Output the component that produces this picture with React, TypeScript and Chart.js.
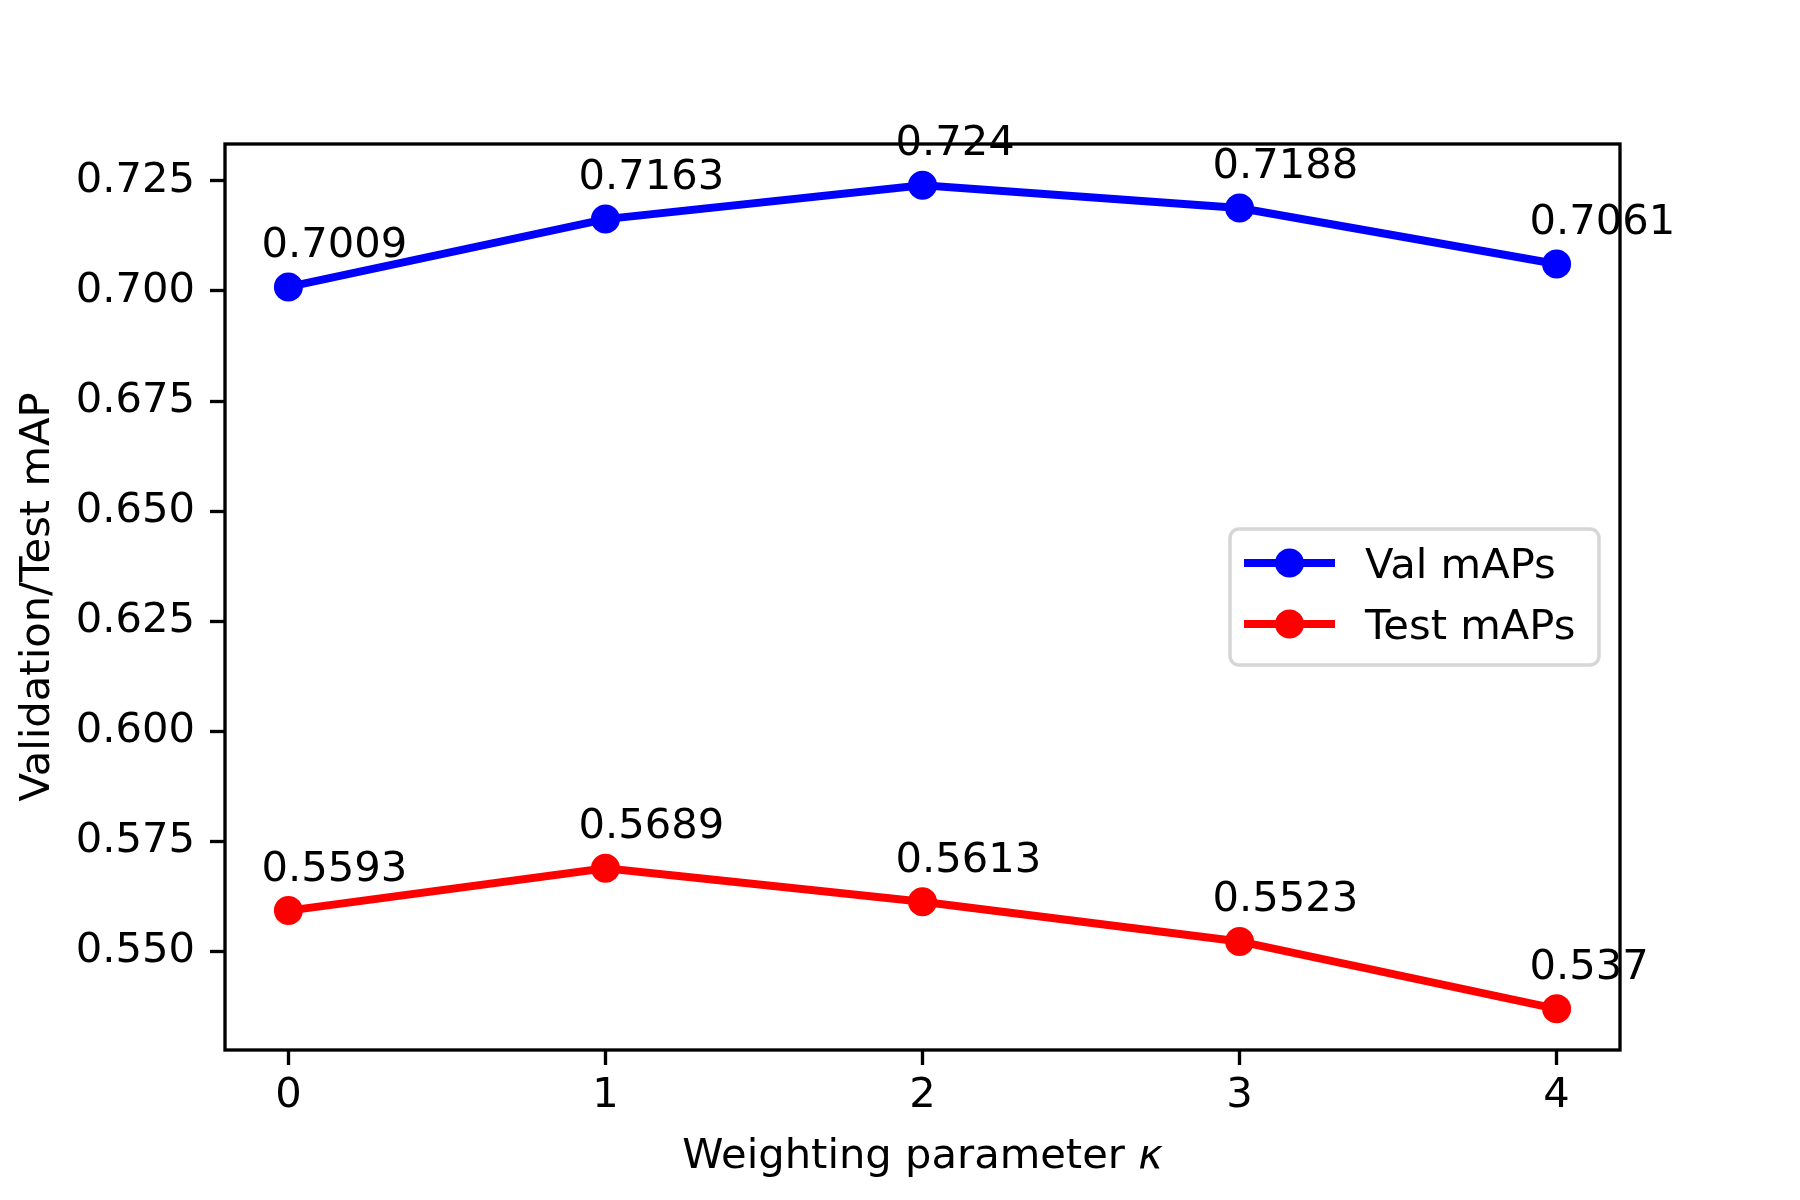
import React, { useEffect, useRef } from "react";
import { Chart, registerables } from "chart.js";

Chart.register(...registerables);

// ---- data ----
const kappa = [0, 1, 2, 3, 4];
const valMAPs = [0.7009, 0.7163, 0.724, 0.7188, 0.7061];
const testMAPs = [0.5593, 0.5689, 0.5613, 0.5523, 0.537];
const valLabels = ["0.7009", "0.7163", "0.724", "0.7188", "0.7061"];
const testLabels = ["0.5593", "0.5689", "0.5613", "0.5523", "0.537"];
const xTicks = [0, 1, 2, 3, 4];
const xTickLabels = ["0", "1", "2", "3", "4"];
const yTicks = [0.55, 0.575, 0.6, 0.625, 0.65, 0.675, 0.7, 0.725];
const yTickLabels = ["0.550", "0.575", "0.600", "0.625", "0.650", "0.675", "0.700", "0.725"];
const seriesNames = ["Val mAPs", "Test mAPs"];
const seriesColors = ["#0000ff", "#ff0000"];
const xTitleText = "Weighting parameter ";
const xTitleSymbol = "κ";
const yTitleText = "Validation/Test mAP";

const FAMILY = "DejaVu Sans";
const FS = 41.67;

const allVals = [...valMAPs, ...testMAPs];
const yLo = Math.min(...allVals);
const yHi = Math.max(...allVals);
const yPad = 0.05 * (yHi - yLo);
const xPad = 0.05 * (Math.max(...kappa) - Math.min(...kappa));

const decor = {
  id: "decor",
  afterDraw(chart: any) {
    const { ctx, chartArea: a, scales } = chart;
    const xs = scales.x;
    const ys = scales.y;
    ctx.save();

    // frame
    ctx.strokeStyle = "#000";
    ctx.lineWidth = 3.33;
    ctx.strokeRect(a.left, a.top, a.right - a.left, a.bottom - a.top);

    // value annotations
    ctx.fillStyle = "#000";
    ctx.font = `${FS}px "${FAMILY}"`;
    ctx.textAlign = "left";
    ctx.textBaseline = "alphabetic";
    const groups: [number[], string[]][] = [
      [valMAPs, valLabels],
      [testMAPs, testLabels],
    ];
    groups.forEach(([vals, labels]) => {
      vals.forEach((v, i) => {
        const px = xs.getPixelForValue(kappa[i]);
        const py = ys.getPixelForValue(v);
        ctx.fillText(labels[i], px - 27, py - 30);
      });
    });

    // legend
    const bw = 369;
    const bh = 136;
    const bx = a.right - 21 - bw;
    const by = (a.top + a.bottom) / 2 - bh / 2;
    ctx.beginPath();
    (ctx as any).roundRect(bx, by, bw, bh, 9);
    ctx.fillStyle = "rgba(255,255,255,0.8)";
    ctx.fill();
    ctx.strokeStyle = "#d6d6d6";
    ctx.lineWidth = 3.5;
    ctx.stroke();
    seriesNames.forEach((name, i) => {
      const ry = by + 34 + i * 61;
      ctx.strokeStyle = seriesColors[i];
      ctx.lineWidth = 8;
      ctx.beginPath();
      ctx.moveTo(bx + 14, ry);
      ctx.lineTo(bx + 105, ry);
      ctx.stroke();
      ctx.fillStyle = seriesColors[i];
      ctx.beginPath();
      ctx.arc(bx + 59.5, ry, 14.5, 0, Math.PI * 2);
      ctx.fill();
      ctx.fillStyle = "#000";
      ctx.font = `${FS}px "${FAMILY}"`;
      ctx.textAlign = "left";
      ctx.textBaseline = "alphabetic";
      ctx.fillText(name, bx + 135, ry + 15);
    });

    // x axis title with italic kappa
    const normalFont = `${FS}px "${FAMILY}"`;
    const italicFont = `italic ${FS}px "${FAMILY}"`;
    ctx.font = normalFont;
    const w1 = ctx.measureText(xTitleText).width;
    ctx.font = italicFont;
    const w2 = ctx.measureText(xTitleSymbol).width;
    const sx = (a.left + a.right) / 2 - (w1 + w2) / 2;
    const ty = a.bottom + 118;
    ctx.fillStyle = "#000";
    ctx.textAlign = "left";
    ctx.font = normalFont;
    ctx.fillText(xTitleText, sx, ty);
    ctx.font = italicFont;
    ctx.fillText(xTitleSymbol, sx + w1, ty);

    ctx.restore();
  },
};

export default function App() {
  const ref = useRef<HTMLCanvasElement | null>(null);

  useEffect(() => {
    if (!ref.current) return;
    const tickFont = { family: FAMILY, size: FS, lineHeight: 1.2 };
    const mkDs = (i: number, vals: number[]) => ({
      label: seriesNames[i],
      data: kappa.map((k, j) => ({ x: k, y: vals[j] })),
      borderColor: seriesColors[i],
      backgroundColor: seriesColors[i],
      pointBackgroundColor: seriesColors[i],
      pointBorderColor: seriesColors[i],
      borderWidth: 8,
      pointRadius: 14.5,
      pointHoverRadius: 14.5,
      pointBorderWidth: 0,
      tension: 0,
      fill: false,
    });
    const chart = new Chart(ref.current, {
      type: "line",
      data: { datasets: [mkDs(0, valMAPs), mkDs(1, testMAPs)] },
      options: {
        animation: false,
        responsive: false,
        devicePixelRatio: 1,
        events: [],
        layout: { padding: { left: 0, top: 144, right: 180, bottom: 0 } },
        plugins: { legend: { display: false }, tooltip: { enabled: false } },
        scales: {
          x: {
            type: "linear",
            min: Math.min(...kappa) - xPad,
            max: Math.max(...kappa) + xPad,
            afterFit: (s: any) => {
              s.height = 150;
            },
            afterBuildTicks: (s: any) => {
              s.ticks = xTicks.map((v) => ({ value: v }));
            },
            ticks: {
              callback: (_v: any, i: number) => xTickLabels[i],
              font: tickFont,
              color: "#000",
              padding: 6,
              maxRotation: 0,
              autoSkip: false,
            },
            grid: {
              drawOnChartArea: false,
              drawTicks: true,
              tickLength: 15,
              tickWidth: 3.33,
              tickColor: "#000",
              color: "#000",
            },
            border: { display: false },
          },
          y: {
            type: "linear",
            min: yLo - yPad,
            max: yHi + yPad,
            afterFit: (s: any) => {
              s.width = 225;
            },
            afterBuildTicks: (s: any) => {
              s.ticks = yTicks.map((v) => ({ value: v }));
            },
            ticks: {
              callback: (_v: any, i: number) => yTickLabels[i],
              font: tickFont,
              color: "#000",
              padding: 15,
              autoSkip: false,
            },
            grid: {
              drawOnChartArea: false,
              drawTicks: true,
              tickLength: 15,
              tickWidth: 3.33,
              tickColor: "#000",
              color: "#000",
            },
            border: { display: false },
            title: {
              display: true,
              text: yTitleText,
              color: "#000",
              font: { family: FAMILY, size: FS, lineHeight: 1.2 },
              padding: { top: 13, bottom: 0 },
            },
          },
        },
      } as any,
      plugins: [decor],
    });
    return () => chart.destroy();
  }, []);

  return (
    <div
      style={{
        position: "absolute",
        left: 0,
        top: 0,
        width: 1800,
        height: 1200,
        background: "#fff",
      }}
    >
      <canvas
        ref={ref}
        width={1800}
        height={1200}
        style={{ width: 1800, height: 1200, display: "block" }}
      />
    </div>
  );
}
